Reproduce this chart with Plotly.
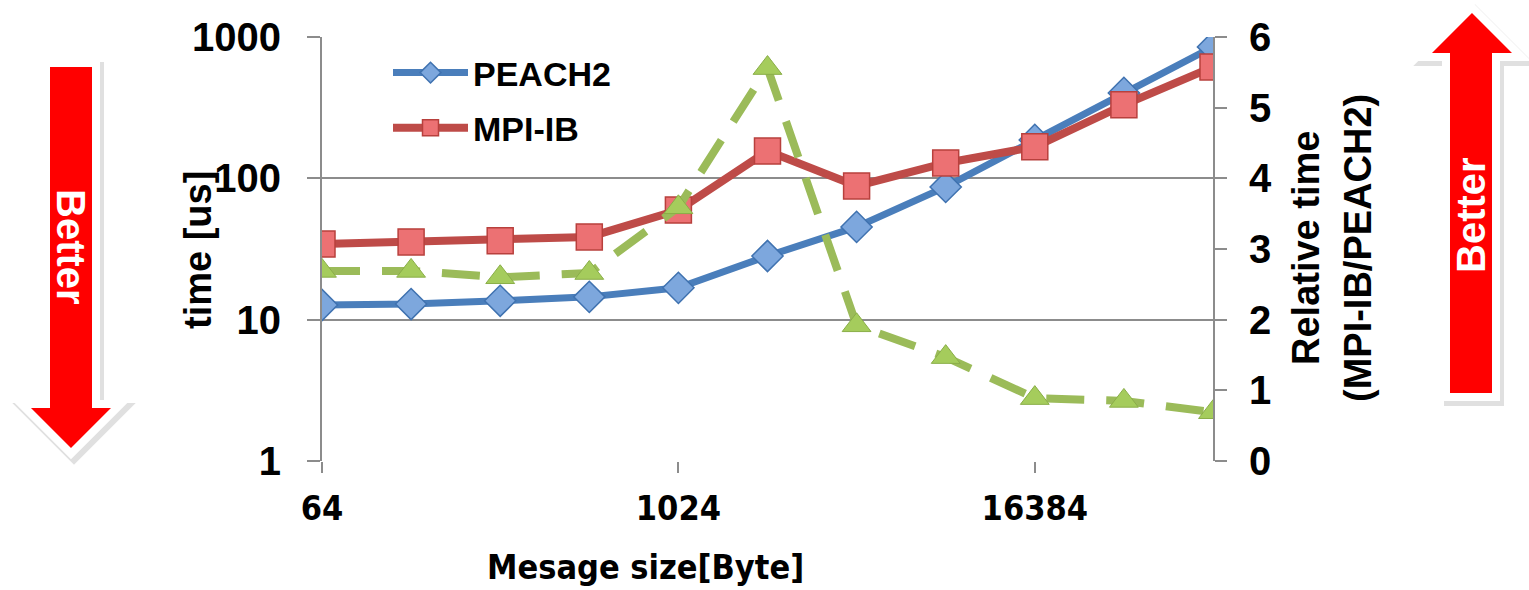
import plotly.graph_objects as go

# ---- data ----
msg_size = [64, 128, 256, 512, 1024, 2048, 4096, 8192, 16384, 32768, 65536]
peach2 = [12.7, 12.9, 13.6, 14.5, 16.8, 28.2, 45.3, 86.9, 187, 402, 851]
mpi_ib = [34.3, 35.5, 36.1, 38.5, 59.7, 156, 88.3, 128.5, 167, 331, 614]
ratio = [2.69, 2.69, 2.60, 2.66, 3.59, 5.56, 1.92, 1.47, 0.89, 0.85, 0.69]
x_ticks = [64, 1024, 16384]
y_ticks = [1, 10, 100, 1000]
y2_ticks = [0, 1, 2, 3, 4, 5, 6]

W, H = 1529, 590
L, R, T, B = 322, 1213, 37, 461

def px(x):
    return (x - L) / (R - L)

def py(y):
    return (B - y) / (B - T)

fig = go.Figure()
fig.add_trace(go.Scatter(
    x=msg_size, y=peach2, name="PEACH2", mode="lines+markers",
    line=dict(color="#4A7EBB", width=7),
    marker=dict(symbol="diamond", size=24, color="#7DA7DD",
                line=dict(color="#3F72B0", width=1.5)),
    legendgroup="a"))
fig.add_trace(go.Scatter(
    x=msg_size, y=mpi_ib, name="MPI-IB", mode="lines+markers",
    line=dict(color="#BE4B48", width=8),
    marker=dict(symbol="square", size=26, color="#EC7173",
                line=dict(color="#B8403D", width=1.5)),
    legendgroup="b"))
fig.add_trace(go.Scatter(
    x=msg_size, y=ratio, name="Relative", mode="lines+markers", yaxis="y2",
    line=dict(color="#9BBB59", width=8, dash="38px,22px"),
    marker=dict(symbol="triangle-up", size=25, color="#A5CC5C",
                line=dict(color="#8AAE48", width=1)),
    showlegend=False))

sans = "Liberation Sans, Arial, sans-serif"
cond = "DejaVu Sans Condensed, Liberation Sans Narrow, sans-serif"
tick_font = dict(family=sans, size=40, color="black", weight="bold")

fig.update_layout(
    width=W, height=H,
    margin=dict(l=L, r=W - R, t=T, b=H - B),
    paper_bgcolor="white", plot_bgcolor="white",
    showlegend=True,
    legend=dict(x=px(388), y=py(44), xanchor="left", yanchor="top",
                bgcolor="rgba(0,0,0,0)", itemwidth=75, tracegroupgap=8,
                font=dict(family=sans, size=34, color="black", weight="bold")),
    xaxis=dict(type="log", range=[1.80618, 4.81648], tickvals=x_ticks,
               ticktext=[str(v) for v in x_ticks],
               ticks="outside", ticklen=11, tickcolor="#8C8C8C", tickwidth=2,
               showgrid=False, zeroline=False, showline=False,
               tickfont=dict(family=cond, size=34, color="black", weight="bold"),
               ticklabelstandoff=6),
    yaxis=dict(type="log", range=[0, 3], tickvals=y_ticks,
               ticktext=[str(v) for v in y_ticks],
               ticks="outside", ticklen=13, tickcolor="#8C8C8C", tickwidth=2,
               showgrid=True, gridcolor="#8C8C8C", gridwidth=2,
               showline=True, linecolor="#8C8C8C", linewidth=2,
               zeroline=False, tickfont=tick_font, ticklabelstandoff=18),
    yaxis2=dict(overlaying="y", side="right", range=[0, 6], tickvals=y2_ticks,
                ticks="outside", ticklen=12, tickcolor="#8C8C8C", tickwidth=2,
                showgrid=False, zeroline=False,
                showline=True, linecolor="#8C8C8C", linewidth=2,
                tickfont=tick_font, ticklabelstandoff=14),
)

def note(text, x, y, angle=0, font=None):
    fig.add_annotation(text=text, xref="paper", yref="paper",
                       x=px(x), y=py(y), xanchor="center", yanchor="middle",
                       textangle=angle, showarrow=False, font=font)

# axis titles
note("<b>time [us]</b>", 198, 250, -90, dict(family=sans, size=38, color="black"))
note("<b>Relative time</b>", 1306, 248, -90, dict(family=sans, size=38, color="black"))
note("<b>(MPI-IB/PEACH2)</b>", 1358, 248, -90, dict(family=sans, size=38, color="black"))
note("<b>Mesage size[Byte]</b>", 645, 567, 0, dict(family=cond, size=34, color="black"))

# arrows
def arrow_path(pts, dx=0, dy=0):
    return "M " + " L ".join(f"{px(x + dx):.5f},{py(y + dy):.5f}" for x, y in pts) + " Z"

down_arrow = [(50, 67), (92, 67), (92, 408), (111, 408), (71, 448), (31, 408), (50, 408)]
up_arrow = [(1450, 393), (1450, 53), (1432, 53), (1472, 13), (1512, 53), (1492, 53), (1492, 393)]

for pts in (down_arrow, up_arrow):
    fig.add_shape(type="path", xref="paper", yref="paper", path=arrow_path(pts, 3, 4),
                  fillcolor="rgba(0,0,0,0.12)", line=dict(color="rgba(0,0,0,0.12)", width=18),
                  layer="below")
    fig.add_shape(type="path", xref="paper", yref="paper", path=arrow_path(pts),
                  fillcolor="white", line=dict(color="white", width=16), layer="above")
    fig.add_shape(type="path", xref="paper", yref="paper", path=arrow_path(pts),
                  fillcolor="#FF0000", line=dict(width=0), layer="above")

note("<b>Better</b>", 71, 247, 90, dict(family=sans, size=40, color="white"))
note("<b>Better</b>", 1471, 215, -90, dict(family=sans, size=40, color="white"))

fig.write_html("out.html")
